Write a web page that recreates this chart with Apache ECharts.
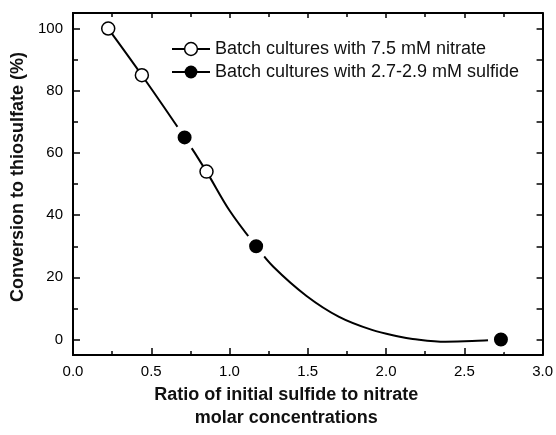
<!DOCTYPE html>
<html>
<head>
<meta charset="utf-8">
<script src="https://cdn.jsdelivr.net/npm/echarts@6/dist/echarts.min.js"></script>
<style>html,body{margin:0;padding:0;background:#fff;}#c{width:556px;height:435px;}</style>
</head>
<body>
<div id="c"></div>
<script>
// Data
var nitrateX = [0.225, 0.44, 0.853];
var nitrateY = [100, 85, 54];
var sulfideX = [0.713, 1.17, 2.734];
var sulfideY = [65, 30, 0];
// fitted curve
var curveX = [0.225, 0.44, 0.713, 0.853, 1.0, 1.17, 1.28, 1.49, 1.70, 1.91, 2.08, 2.17, 2.38, 2.55, 2.734];
var curveY = [100, 85, 65, 54, 41.5, 30, 23.4, 14.1, 7.3, 3.1, 1.0, 0.2, -0.7, -0.5, 0];
var yMajor = [0, 20, 40, 60, 80, 100];
var yMinor = [10, 30, 50, 70, 90];
var nitrateName = 'Batch cultures with 7.5 mM nitrate';
var sulfideName = 'Batch cultures with 2.7-2.9 mM sulfide';

function zip(a, b) { return a.map(function (v, i) { return [v, b[i]]; }); }

var FONT = 'Liberation Sans, Arial, sans-serif';
var chart = echarts.init(document.getElementById('c'));
var axisLine = { show: true, onZero: false, lineStyle: { color: '#000', width: 2 } };
var yBase = { type: 'value', min: -5, max: 105, splitLine: { show: false }, axisLine: axisLine };

chart.setOption({
  animation: false,
  backgroundColor: '#fff',
  grid: { left: 73, right: 12, top: 13, bottom: 71, containLabel: false },
  legend: {
    left: 166, top: 35, orient: 'vertical', itemWidth: 38, itemHeight: 16, itemGap: 5,
    textStyle: { fontFamily: FONT, fontSize: 18, color: '#111' },
    data: [
      { name: nitrateName, itemStyle: { color: '#fff', borderColor: '#000', borderWidth: 1.5 }, lineStyle: { color: '#000', width: 2, opacity: 1 } },
      { name: sulfideName, itemStyle: { color: '#000', borderColor: '#000', borderWidth: 0 }, lineStyle: { color: '#000', width: 2, opacity: 1 } }
    ]
  },
  xAxis: [
    {
      type: 'value', min: 0, max: 3, interval: 0.5, position: 'bottom',
      axisLine: axisLine, splitLine: { show: false },
      axisTick: { inside: true, length: 7, lineStyle: { color: '#000', width: 1.5 } },
      minorTick: { show: true, splitNumber: 2, length: 4, lineStyle: { color: '#000', width: 1.5 } },
      axisLabel: { margin: 9, fontFamily: FONT, fontSize: 15, color: '#000', formatter: function (v) { return v.toFixed(1); } },
      name: 'Ratio of initial sulfide to nitrate\nmolar concentrations',
      nameLocation: 'middle', nameGap: 27,
      nameTextStyle: { fontFamily: FONT, fontSize: 18, fontWeight: 'bold', color: '#111', lineHeight: 23, padding: [0, 43, 0, 0] }
    },
    {
      type: 'value', min: 0, max: 3, interval: 0.5, position: 'top',
      axisLine: axisLine, splitLine: { show: false }, axisLabel: { show: false },
      axisTick: { inside: true, length: 5, lineStyle: { color: '#000', width: 1.5 } },
      minorTick: { show: true, splitNumber: 2, length: 4, lineStyle: { color: '#000', width: 1.5 } }
    }
  ],
  yAxis: [
    Object.assign({}, yBase, {
      position: 'left',
      axisTick: { inside: true, length: 7, customValues: yMajor, lineStyle: { color: '#000', width: 1.5 } },
      axisLabel: { margin: 10, customValues: yMajor, fontFamily: FONT, fontSize: 15, color: '#000' },
      name: 'Conversion to thiosulfate (%)', nameLocation: 'middle', nameGap: 37,
      nameTextStyle: { fontFamily: FONT, fontSize: 18, fontWeight: 'bold', color: '#111', padding: [0, 0, 0, 14] }
    }),
    Object.assign({}, yBase, {
      position: 'left',
      axisTick: { inside: true, length: 5, customValues: yMinor, lineStyle: { color: '#000', width: 1.5 } },
      axisLabel: { show: false }
    }),
    Object.assign({}, yBase, {
      position: 'right',
      axisTick: { inside: true, length: 6, customValues: yMajor.concat(yMinor), lineStyle: { color: '#000', width: 1.5 } },
      axisLabel: { show: false }
    })
  ],
  series: [
    {
      type: 'line', name: 'fit', data: zip(curveX, curveY), smooth: 0.35, showSymbol: false,
      symbol: 'none', lineStyle: { color: '#000', width: 2 }, z: 2, silent: true
    },
    {
      type: 'line', name: nitrateName, data: zip(nitrateX, nitrateY), symbol: 'circle', symbolSize: 13,
      lineStyle: { opacity: 0, width: 0 },
      itemStyle: { color: '#fff', borderColor: '#000', borderWidth: 1.5 }, z: 3
    },
    {
      type: 'line', name: sulfideName, data: zip(sulfideX, sulfideY), symbol: 'circle', symbolSize: 20,
      lineStyle: { opacity: 0, width: 0 },
      itemStyle: { color: '#000', borderColor: '#fff', borderWidth: 6 }, z: 3
    }
  ]
});
</script>
</body>
</html>
